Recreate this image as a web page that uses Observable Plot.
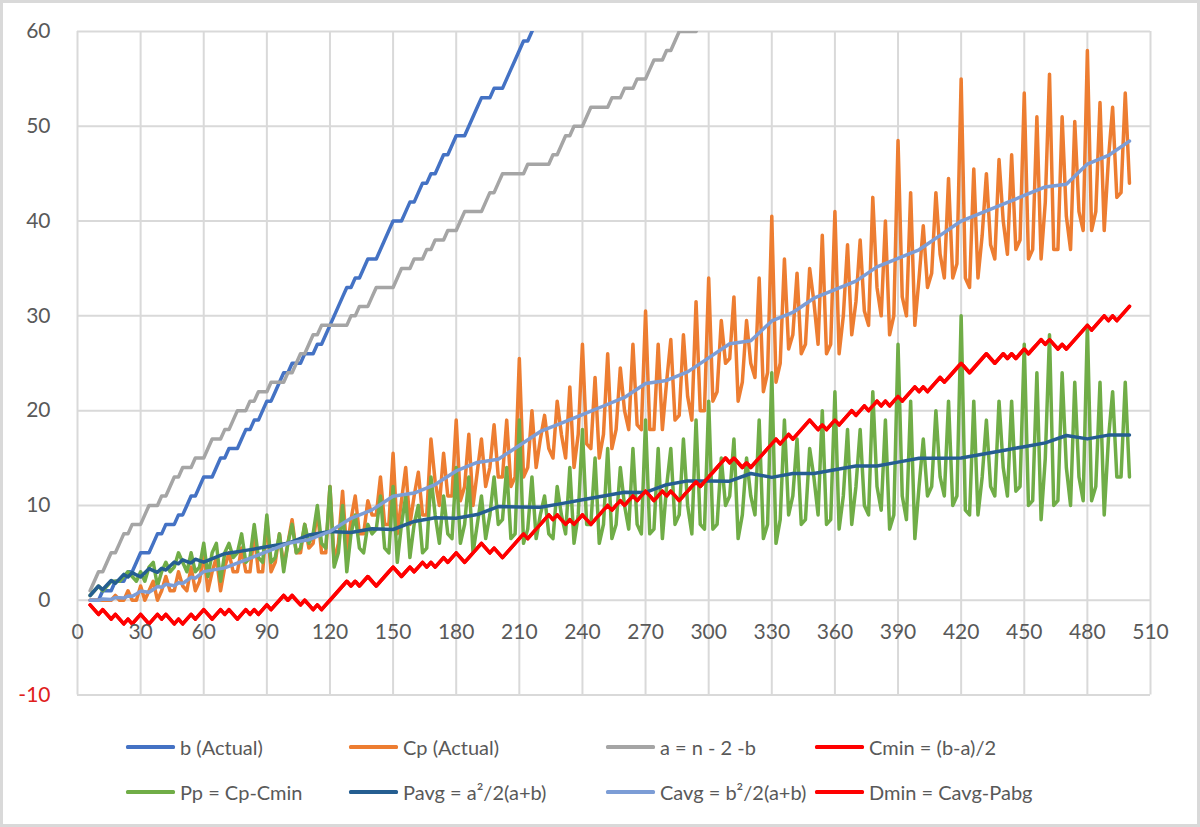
<!DOCTYPE html>
<html>
<head>
<meta charset="utf-8">
<script src="https://cdn.jsdelivr.net/npm/d3@7"></script>
<script src="https://cdn.jsdelivr.net/npm/@observablehq/plot@0.6"></script>
<style>
  html, body { margin: 0; padding: 0; background: #fff; }
  #page { position: relative; width: 1200px; height: 827px; overflow: hidden; font-family: Lato, "Open Sans", sans-serif; }
  #border { position: absolute; left: 0; top: 0; width: 1200px; height: 827px; box-sizing: border-box; border: 3px solid #d9d9d9; pointer-events: none; }
  #chart { position: absolute; left: 0; top: 0; }
  .item { position: absolute; display: flex; align-items: center; font-size: 20px; color: #595959; white-space: nowrap; height: 30px; }
  .sw { width: 49px; height: 3.5px; margin-right: 5px; border-radius: 1.5px; }
</style>
</head>
<body>
<div id="page">
  <div id="chart"></div>
  <div id="legend"></div>
  <div id="border"></div>
</div>
<script>
// x categories (n)
const nValues = [6,8,10,12,14,16,18,20,22,24,26,28,30,32,34,36,38,40,42,44,46,48,50,52,54,56,58,60,62,64,66,68,70,72,74,76,78,80,82,84,86,88,90,92,94,96,98,100,
102,104,106,108,110,112,114,116,118,120,122,124,126,128,130,132,134,136,138,140,142,144,146,148,150,152,154,156,158,160,162,164,166,168,170,172,174,176,178,180,182,184,186,188,190,192,194,196,198,200,
202,204,206,208,210,212,214,216,218,220,222,224,226,228,230,232,234,236,238,240,242,244,246,248,250,252,254,256,258,260,262,264,266,268,270,272,274,276,278,280,282,284,286,288,290,292,294,296,298,300,
302,304,306,308,310,312,314,316,318,320,322,324,326,328,330,332,334,336,338,340,342,344,346,348,350,352,354,356,358,360,362,364,366,368,370,372,374,376,378,380,382,384,386,388,390,392,394,396,398,400,
402,404,406,408,410,412,414,416,418,420,422,424,426,428,430,432,434,436,438,440,442,444,446,448,450,452,454,456,458,460,462,464,466,468,470,472,474,476,478,480,482,484,486,488,490,492,494,496,498,500];

// b (Actual), n = 6..220
const bActual = [0,0,0,1,1,1,2,2,2,3, 3,4,5,5,5,6,7,7,8,8, 8,9,9,10,11,11,12,13,13,13, 14,15,15,16,16,16,17,18,18,19,
19,20,21,21,22,23,24,24,25,25, 25,26,26,26,27,27,28,29,30,31, 32,33,33,34,34,35,36,36,36,37, 38,39,40,40,40,41,42,42,43,44,
44,45,45,46,47,47,48,49,49,49, 50,51,52,53,53,53,54,54,54,55, 56,57,58,59,59,60,61,62];

// a = n - 2 - b, n = 6..300
const aValues = [1,2,3,3,4,5,5,6,7,7, 8,8,8,9,10,10,10,11,11,12, 13,13,14,14,14,15,15,15,16,17, 17,17,18,18,19,20,20,20,21,21,
22,22,22,23,23,23,23,24,24,25, 26,26,27,28,28,29,29,29,29,29, 29,29,30,30,31,31,31,32,33,33, 33,33,33,34,35,35,35,36,36,36,
37,37,38,38,38,39,39,39,40,41, 41,41,41,41,42,43,43,44,45,45, 45,45,45,45,46,46,46,46,46,46, 47,47,48,49,49,50,50,50,51,52,
52,52,52,52,53,53,53,54,54,54, 55,55,55,56,57,57,57,58,58,59, 60,60,60,60,60,61,61,61];

// Cp (Actual), n = 6..500
const cpActual = [0,0,0,0,0,0,0.5,0,0,1, 0,0,1.5,0,1,2,0,1,2.5,1, 1,3,1.5,1,3.5,1,2,5,1,3, 4.5,1,3.5,5,3,3,5.5,3,3,7,
3,3,8.5,3,4,7,3.5,6,8.5,5, 5,8,5.5,6,9.5,5,5,12,4,6, 11.5,5,8.5,11,7,7,10.5,9,9,13, 8,8,15.5,7,10.5,14,8,11,13.5,9,
9,17,12.5,10,15.5,11,11,19,10.5,12, 17.5,10,13.5,17,12,14,18.5,13,13,19, 12,13,25.5,13,14,20,14,17,19.5,16, 15,21,17.5,15,22.5,14,17.5,27,16.5,16,
23.5,15,17.5,26,16,18,24.5,20,18,27, 18.5,18,30.5,18,18,27,18,23,27.5,19, 19.5,28,21.5,19,31.5,20,20,34,21,22, 29.5,25,25.5,32,21,23,29.5,25,23.5,34,
22,24,40.5,23,25,36,26.5,28,34.5,26, 27,35,31.5,27,38.5,26,27,41,26,30, 37.5,28,31.5,38,30.5,29,42.5,33,30,40, 28,30,48.5,32,30,43,29,34,39.5,33,
34.5,43,36.5,34,44.5,34,35.5,55,34,33, 45.5,34,38.5,45,37.5,36,46.5,40,36.5,47, 37,38,53.5,36,37,51,36,42,55.5,37, 37,51,40.5,37,50.5,41,39,58,39,41,
52.5,39,46.5,52,42.5,43,53.5,44];

// Cmin = (b-a)/2 and Dmin = Cavg-Pavg (identical), n = 6..500
const cMin = [-0.5,-1,-1.5,-1,-1.5,-2,-1.5,-2,-2.5,-2, -2.5,-2,-1.5,-2,-2.5,-2,-1.5,-2,-1.5,-2, -2.5,-2,-2.5,-2,-1.5,-2,-1.5,-1,-1.5,-2, -1.5,-1,-1.5,-1,-1.5,-2,-1.5,-1,-1.5,-1,
-1.5,-1,-0.5,-1,-0.5,0,0.5,0,0.5,0, -0.5,0,-0.5,-1,-0.5,-1,-0.5,0,0.5,1, 1.5,2,1.5,2,1.5,2,2.5,2,1.5,2, 2.5,3,3.5,3,2.5,3,3.5,3,3.5,4,
3.5,4,3.5,4,4.5,4,4.5,5,4.5,4, 4.5,5,5.5,6,5.5,5,5.5,5,4.5,5, 5.5,6,6.5,7,6.5,7,7.5,8,8.5,9, 8.5,9,8.5,8,8.5,8,8.5,9,8.5,8,
8.5,9,9.5,10,9.5,10,10.5,10,10.5,11, 10.5,11,11.5,11,10.5,11,11.5,11,11.5,11, 10.5,11,11.5,12,12.5,12,12.5,13,13.5,14, 14.5,15,14.5,15,14.5,14,14.5,14,14.5,15,
15.5,16,16.5,17,16.5,17,17.5,17,17.5,18, 18.5,19,18.5,18,18.5,18,18.5,19,18.5,19, 19.5,20,19.5,20,20.5,20,20.5,21,20.5,21, 20.5,21,21.5,21,21.5,22,22.5,22,22.5,22,
22.5,23,23.5,23,23.5,24,24.5,25,24.5,24, 24.5,25,25.5,26,25.5,25,25.5,26,25.5,26, 25.5,26,26.5,26,26.5,27,27.5,27,27.5,27, 26.5,27,26.5,27,27.5,28,28.5,29,28.5,29,
29.5,30,29.5,30,29.5,30,30.5,31];

// Pp = Cp - Cmin, n = 6..500
const ppValues = [0.5,1,1.5,1,1.5,2,2,2,2.5,3, 2.5,2,3,2,3.5,4,1.5,3,4,3, 3.5,5,4,3,5,3,3.5,6,2.5,5, 6,2,5,6,4.5,5,7,4,4.5,8,
4.5,4,9,4,4.5,7,3,6,8,5, 5.5,8,6,7,10,6,5.5,12,3.5,5, 10,3,7,9,5.5,5,8,7,7.5,11, 5.5,5,12,4,8,11,4.5,8,10,5,
5.5,13,9,6,11,7,6.5,14,6,8, 13,5,8,11,6.5,9,13,8,8.5,14, 6.5,7,19,6,7.5,13,6.5,9,11,7, 6.5,12,9,7,14,6,9,18,8,8,
15,6,8,16,6.5,8,14,10,7.5,16, 8,7,19,7,7.5,16,6.5,12,16,8, 9,17,10,7,19,8,7.5,21,7.5,8, 15,10,11,17,6.5,9,15,11,9,19,
6.5,8,24,6,8.5,19,9,11,17,8, 8.5,16,13,9,20,8,8.5,22,7.5,11, 18,8,12,18,10,9,22,12,9.5,19, 7.5,9,27,11,8.5,21,6.5,12,17,11,
12,20,13,11,21,10,11,30,9.5,9, 21,9,13,19,12,11,21,14,11,21, 11.5,12,27,10,10.5,24,8.5,15,28,10, 10.5,24,14,10,23,13,10.5,29,10.5,12,
23,9,17,22,13,13,23,13];

// Pavg and Cavg sampled points
const nAvg = [6,8,10,12,14,16,18,20,22,24,26,28,30,32,34,36,38,40,42,44,46,48,50,52,54,56,58,60,
70,80,90,100,110,120,130,140,150,160,170,180,190,200,210,220,230,240,250,260,270,280,290,300,
310,320,330,340,350,360,370,380,390,400,410,420,430,440,450,460,470,480,490,500];
const pAvg = [0.5,1,1.5,1.125,1.6,2.083,1.786,2.25,2.722,2.45,2.909,2.667,2.462,2.893,3.333,3.125,2.941,3.361,3.184,3.6,4.024,3.841,4.261,4.083,3.92,4.327,4.167,4.018,
4.91,5.26,5.63,6,6.88,7.25,7.14,7.53,7.46,8.31,8.70,8.64,9.04,9.88,9.83,9.80,10.19,10.59,10.99,11.39,11.37,12.19,12.59,12.57,
12.56,13.37,12.96,13.36,13.36,13.76,14.16,14.17,14.57,14.97,14.99,15.00,15.40,15.80,16.20,16.60,17.38,17.02,17.42,17.44];
const cAvg = [0,0,0,0.125,0.1,0.083,0.286,0.25,0.222,0.45,0.409,0.667,0.962,0.893,0.833,1.125,1.441,1.361,1.684,1.6,1.524,1.841,1.761,2.083,2.42,2.327,2.667,3.018,
3.41,4.26,5.13,6,6.38,7.25,8.64,9.53,10.96,11.31,12.20,13.64,14.54,14.88,16.33,17.80,18.69,19.59,20.49,21.39,22.87,23.19,24.09,25.57,
27.06,27.37,29.46,30.36,31.86,32.76,33.66,35.17,36.07,36.97,38.49,40.00,40.90,41.80,42.70,43.60,43.88,46.02,46.92,48.44];

const xTicks = [0,30,60,90,120,150,180,210,240,270,300,330,360,390,420,450,480,510];
const yTicks = [-10,0,10,20,30,40,50,60];

const series = [
  {label: "b (Actual)", color: "#4472C4"},
  {label: "Cp (Actual)", color: "#ED7D31"},
  {label: "a = n - 2 -b", color: "#A5A5A5"},
  {label: "Cmin = (b-a)/2", color: "#FF0000"},
  {label: "Pp = Cp-Cmin", color: "#70AD47"},
  {label: "Pavg = a\u00B2/2(a+b)", color: "#255E91"},
  {label: "Cavg = b\u00B2/2(a+b)", color: "#7C9DD6"},
  {label: "Dmin = Cavg-Pabg", color: "#FF0000"}
];

const rows = (xs, ys) => ys.map((v, i) => ({n: xs[i], v}));

const lineOpts = (color) => ({x: "n", y: "v", stroke: color, strokeWidth: 3.5, strokeLinejoin: "round", strokeLinecap: "round", clip: true});

const chart = Plot.plot({
  width: 1200,
  height: 720,
  marginLeft: 77,
  marginRight: 50,
  marginTop: 31,
  marginBottom: 25.5,
  x: {domain: [0, 510], axis: null},
  y: {domain: [-10, 60], axis: null},
  style: {fontFamily: "Lato, 'Open Sans', sans-serif", background: "transparent", overflow: "visible"},
  marks: [
    Plot.ruleX(xTicks, {x: d => d, stroke: "#d9d9d9", strokeWidth: 2}),
    Plot.ruleY(yTicks, {y: d => d, stroke: "#d9d9d9", strokeWidth: 2}),
    Plot.line(rows(nValues, bActual), lineOpts(series[0].color)),
    Plot.line(rows(nValues, cpActual), lineOpts(series[1].color)),
    Plot.line(rows(nValues, aValues), lineOpts(series[2].color)),
    Plot.line(rows(nValues, cMin), lineOpts(series[3].color)),
    Plot.line(rows(nValues, ppValues), lineOpts(series[4].color)),
    Plot.line(rows(nAvg, pAvg), lineOpts(series[5].color)),
    Plot.line(rows(nAvg, cAvg), lineOpts(series[6].color)),
    Plot.line(rows(nValues, cMin), lineOpts(series[7].color)),
    Plot.text(yTicks, {x: 0, y: d => d, text: d => String(d), dx: -27, textAnchor: "end", fontSize: 21, fill: d => d < 0 ? "#E0201C" : "#595959"}),
    Plot.text(xTicks, {x: d => d, y: 0, text: d => String(d), dy: 32, fontSize: 21, fill: "#595959"})
  ]
});
document.getElementById("chart").appendChild(chart);

// legend
const legendPos = [
  {left: 126, top: 732}, {left: 349, top: 732}, {left: 606, top: 732}, {left: 815, top: 732},
  {left: 126, top: 777}, {left: 349, top: 777}, {left: 606, top: 777}, {left: 815, top: 777}
];
const legend = document.getElementById("legend");
series.forEach((s, i) => {
  const item = document.createElement("div");
  item.className = "item";
  item.style.left = legendPos[i].left + "px";
  item.style.top = legendPos[i].top + "px";
  const sw = document.createElement("span");
  sw.className = "sw";
  sw.style.background = s.color;
  const tx = document.createElement("span");
  tx.textContent = s.label;
  item.appendChild(sw);
  item.appendChild(tx);
  legend.appendChild(item);
});
</script>
</body>
</html>
